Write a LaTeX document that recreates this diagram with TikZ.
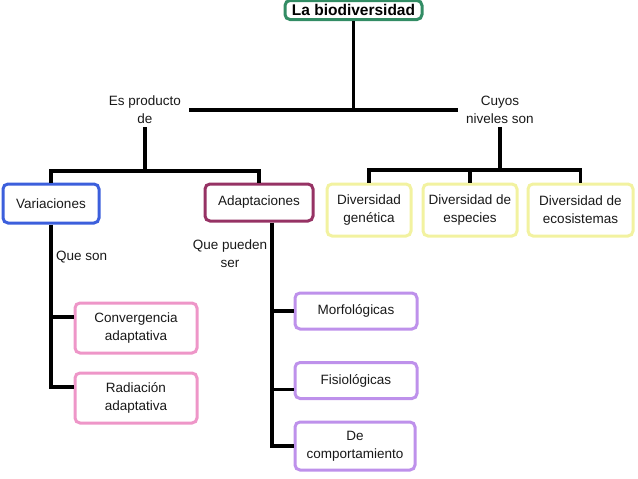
\documentclass[tikz,border=0pt]{standalone}
\usepackage{fontspec}
\setmainfont{Liberation Sans}
\definecolor{titlegreen}{RGB}{50,140,100}
\definecolor{varblue}{RGB}{60,95,220}
\definecolor{adapwine}{RGB}{150,50,100}
\definecolor{diveryellow}{RGB}{242,242,160}
\definecolor{convpink}{RGB}{238,150,200}
\definecolor{morflilac}{RGB}{190,145,235}
\begin{document}
\begin{tikzpicture}[x=1pt,y=-1pt,
    every node/.style={font=\fontsize{13.5}{18}\selectfont, text=black!90, align=center, inner sep=0pt},
    box/.style={draw, line width=3pt, rounded corners=5pt, fill=white},
    tag/.style={inner xsep=8pt, inner ysep=3pt},
    link/.style={line width=3.2pt, black}]
\useasboundingbox (0,0) rectangle (638,479);
% top
\node[box, draw=titlegreen, minimum width=137pt, minimum height=19pt,
      font=\bfseries\fontsize{15.5}{18}\selectfont, text=black] (bio) at (353.5,10) {La biodiversidad};
\node[tag] (esprod) at (145,110) {Es producto\\de};
\node[tag] (cuyos) at (500,110) {Cuyos\\niveles son};
\coordinate (lbar) at (145,171);
\coordinate (rbar) at (500,170);
% boxes
\node[box, draw=varblue, minimum width=96pt, minimum height=39pt] (var) at (51,203.5) {Variaciones};
\node[box, draw=adapwine, minimum width=108pt, minimum height=37pt] (adap) at (259,202.5) {Adaptaciones};
\node[box, draw=diveryellow, minimum width=84pt, minimum height=52pt] (gen) at (369,210) {Diversidad\\gen\'etica};
\node[box, draw=diveryellow, minimum width=94pt, minimum height=52pt] (esp) at (470,210) {Diversidad de\\especies};
\node[box, draw=diveryellow, minimum width=105pt, minimum height=52pt] (eco) at (580.5,210) {Diversidad de\\ecosistemas};
\node[anchor=west] (queson) at (56,257) {Que son};
\node (quepueden) at (230,254) {Que pueden\\ser};
\node[box, draw=convpink, minimum width=122pt, minimum height=50pt] (conv) at (136,328) {Convergencia\\adaptativa};
\node[box, draw=convpink, minimum width=122pt, minimum height=50pt] (rad) at (136,398) {Radiaci\'on\\adaptativa};
\node[box, draw=morflilac, minimum width=122pt, minimum height=36pt] (morf) at (356,311) {Morfol\'ogicas};
\node[box, draw=morflilac, minimum width=122pt, minimum height=36pt] (fis) at (356,380.5) {Fisiol\'ogicas};
\node[box, draw=morflilac, minimum width=120pt, minimum height=48pt] (comp) at (355,446) {De\\comportamiento};
\coordinate (vartrunk) at (var.south);
\coordinate (adaptrunk) at ([xshift=13pt]adap.south);
% connectors
\draw[link] (bio.south) -- (bio.south |- esprod.east);
\draw[link] (esprod.east) -- (cuyos.west);
\draw[link] (esprod.south) -- (lbar);
\draw[link] (var.north) |- (lbar) -| (adap.north);
\draw[link] (cuyos.south) -- (rbar);
\draw[link] (gen.north) |- (rbar) -| (eco.north);
\draw[link] (esp.north) -- (esp.north |- rbar);
\draw[link] (vartrunk) |- (rad.170);
\draw[link] (conv.170) -- (conv.170 -| vartrunk);
\draw[link] (adaptrunk) |- (comp.west);
\draw[link] (morf.west) -- (morf.west -| adaptrunk);
\draw[link] (fis.188) -- (fis.188 -| adaptrunk);
\end{tikzpicture}
\end{document}
